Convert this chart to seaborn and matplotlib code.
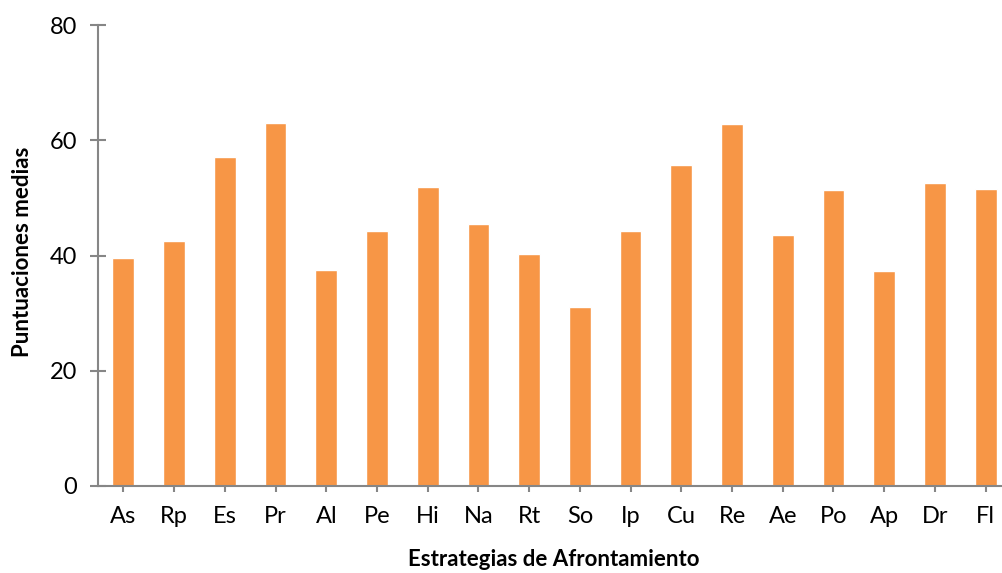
import pandas as pd
import matplotlib
matplotlib.use("Agg")
import matplotlib.pyplot as plt
import seaborn as sns

# Datos
estrategias = ["As", "Rp", "Es", "Pr", "Al", "Pe", "Hi", "Na", "Rt",
               "So", "Ip", "Cu", "Re", "Ae", "Po", "Ap", "Dr", "Fl"]
puntuaciones = [39.6, 42.5, 57.1, 63.0, 37.5, 44.3, 51.9, 45.5, 40.3,
                31.1, 44.3, 55.7, 62.8, 43.6, 51.4, 37.3, 52.6, 51.5]

df = pd.DataFrame({"Estrategia": estrategias, "Puntuacion": puntuaciones})

sns.set_style("white")
plt.rcParams["font.family"] = ["Lato", "DejaVu Sans"]

gris = "#868686"
naranja = "#F79646"

fig = plt.figure(figsize=(10.02, 5.73), dpi=100)
# el eje se sale un poco por la derecha, como en el original
ax = fig.add_axes([98 / 1002, 1 - 486 / 573, (1011 - 98) / 1002, (486 - 25) / 573])

sns.barplot(data=df, x="Estrategia", y="Puntuacion", color=naranja,
            width=0.43, saturation=1, ax=ax, order=estrategias)

ax.set_xlim(-0.5, 17.5)
ax.set_ylim(0, 80)
ax.set_yticks([0, 20, 40, 60, 80])

for lado in ["top", "right"]:
    ax.spines[lado].set_visible(False)
for lado in ["left", "bottom"]:
    ax.spines[lado].set_color(gris)
    ax.spines[lado].set_linewidth(1.5)

ax.tick_params(axis="y", direction="inout", length=12, width=1.5, color=gris,
               labelsize=17, labelcolor="black", pad=9, left=True)
ax.tick_params(axis="x", direction="inout", length=9, width=1.5, color=gris,
               labelsize=17, labelcolor="black", pad=10, bottom=True)

ax.set_xlabel("Estrategias de Afrontamiento", fontsize=16, fontweight="bold", color="black")
ax.set_ylabel("Puntuaciones medias", fontsize=16, fontweight="bold", color="black")
ax.xaxis.label.set_va("center")
ax.yaxis.label.set_va("center")
ax.xaxis.set_label_coords((554 - 98) / (1011 - 98), -(560 - 486) / (486 - 25))
ax.yaxis.set_label_coords(-(98 - 22) / (1011 - 98), (486 - 252) / (486 - 25))

fig.savefig("out.png", dpi=100)
